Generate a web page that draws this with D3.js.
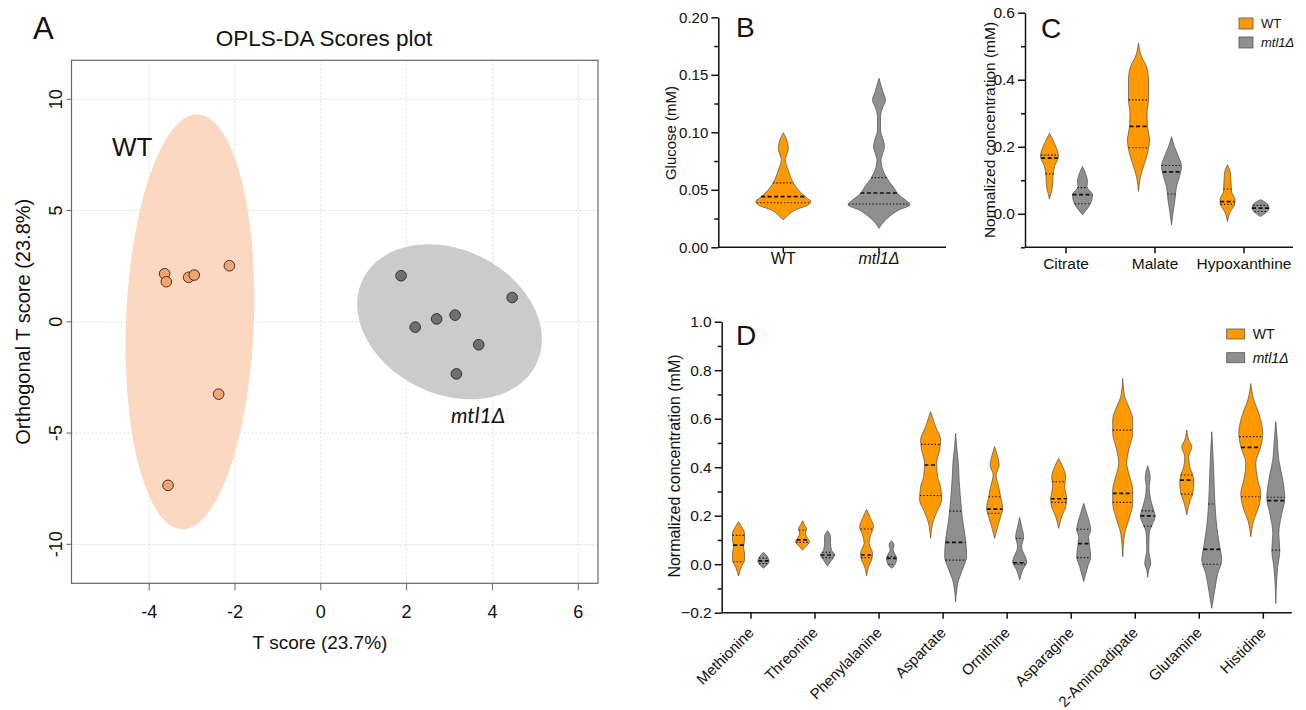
<!DOCTYPE html>
<html>
<head>
<meta charset="utf-8">
<title>OPLS-DA scores and metabolite violins</title>
<script src="https://d3js.org/d3.v7.min.js"></script>
<style>
  body { margin: 0; background: #fff; }
  text { font-family: "Liberation Sans", Arial, sans-serif; }
</style>
</head>
<body>
<div id="chart"></div>
<script>
// ---------- data ----------

// A: OPLS-DA scores [T score, orthogonal T score]
const wtScores  = [[-3.64, 2.16], [-3.60, 1.80], [-3.08, 2.00], [-2.95, 2.10], [-2.13, 2.52], [-2.38, -3.25], [-3.56, -7.35]]
const mtlScores = [[1.87, 2.07], [2.20, -0.24], [2.70, 0.13], [3.13, 0.30], [4.46, 1.09], [3.68, -1.03], [3.16, -2.34]]
// confidence ellipses: centre + two conjugate semi-axes (score units)
const wtEllipse  = {c: [-3.05, 0], u: [0.17, 9.32], v: [1.49, 0]}
const mtlEllipse = {c: [3.0, 0], u: [2.02, -1.91], v: [-0.74, -2.91]}
const xTicksA = [-4, -2, 0, 2, 4, 6]
const yTicksA = [-10, -5, 0, 5, 10]

// violin profiles: [value, relative density], median and quartiles
// B: glucose
const glucoseGroups = ["WT", "mtl1Δ"]
const glucoseTicks = [0, 0.05, 0.10, 0.15, 0.20]
const glucoseMinor = [0.025, 0.075, 0.125, 0.175]
const glucoseViolins = [
  {cat: "WT", group: "WT", median: 0.044, q: [0.0388, 0.056],
   profile: [[0.0997,0],[0.093,3.5],[0.086,5],[0.0795,3],[0.0765,2],[0.067,5],[0.057,9.5],[0.048,17],[0.0426,24],[0.040,27.5],[0.0368,25],[0.0325,12],[0.028,5],[0.0238,0]]},
  {cat: "mtl1Δ", group: "mtl1Δ", median: 0.0472, q: [0.0377, 0.0606],
   profile: [[0.147,0],[0.135,4],[0.128,6.5],[0.12,3],[0.1136,1.5],[0.102,1.5],[0.094,4],[0.0875,5.5],[0.081,3.5],[0.076,2],[0.067,4],[0.060,8],[0.0528,14],[0.0455,20],[0.040,28],[0.037,31],[0.0325,20],[0.025,8],[0.0165,0]]}
]

// C: organic acids / purine
const organicCats = ["Citrate", "Malate", "Hypoxanthine"]
const organicTicks = [0, 0.2, 0.4, 0.6]
const organicMinor = [-0.1, 0.1, 0.3, 0.5]
const organicViolins = [
  {cat: "Citrate", group: "WT", median: 0.166, q: [0.119, 0.175],
   profile: [[0.24,0],[0.21,5],[0.171,9],[0.141,5],[0.111,3.5],[0.081,3],[0.062,1.5],[0.044,0]]},
  {cat: "Citrate", group: "mtl1Δ", median: 0.057, q: [0.030, 0.078],
   profile: [[0.141,0],[0.121,3],[0.096,5],[0.081,4.5],[0.057,10],[0.030,8],[0.012,4],[-0.003,0]]},
  {cat: "Malate", group: "WT", median: 0.261, q: [0.197, 0.340],
   profile: [[0.509,0],[0.469,3],[0.439,8],[0.399,10],[0.34,10],[0.30,8.5],[0.26,9],[0.22,11],[0.18,9],[0.141,5],[0.111,2],[0.067,0]]},
  {cat: "Malate", group: "mtl1Δ", median: 0.125, q: [0.059, 0.144],
   profile: [[0.23,0],[0.20,3],[0.171,7],[0.141,10],[0.111,8],[0.081,5],[0.042,3.5],[0.002,1.5],[-0.033,0]]},
  {cat: "Hypoxanthine", group: "WT", median: 0.036, q: [0.028, 0.074],
   profile: [[0.146,0],[0.121,3],[0.096,3.5],[0.067,4],[0.042,7.5],[0.027,7],[0.007,3],[-0.023,0]]},
  {cat: "Hypoxanthine", group: "mtl1Δ", median: 0.017, q: [0.007, 0.025],
   profile: [[0.042,0],[0.032,6],[0.017,8.5],[0.002,5],[-0.008,0]]}
]

// D: amino acids
const aminoCats = ["Methionine", "Threonine", "Phenylalanine", "Aspartate", "Ornithine", "Asparagine", "2-Aminoadipate", "Glutamine", "Histidine"]
const aminoTicks = [-0.2, 0, 0.2, 0.4, 0.6, 0.8, 1.0]
const aminoMinor = [-0.1, 0.1, 0.3, 0.5, 0.7, 0.9]
const aminoViolins = [
  {cat: "Methionine", group: "WT", median: 0.079, q: [0.010, 0.119],
   profile: [[0.175,0],[0.155,3],[0.127,6],[0.10,6],[0.072,5],[0.045,6],[0.017,6],[-0.01,3],[-0.049,0]]},
  {cat: "Methionine", group: "mtl1Δ", median: 0.014, q: [0.003, 0.025],
   profile: [[0.049,0],[0.031,4],[0.01,5.5],[-0.003,3.5],[-0.017,0]]},
  {cat: "Threonine", group: "WT", median: 0.10, q: [0.09, 0.141],
   profile: [[0.179,0],[0.162,2],[0.148,4],[0.127,3],[0.107,5],[0.093,7],[0.072,3],[0.058,0]]},
  {cat: "Threonine", group: "mtl1Δ", median: 0.038, q: [0.027, 0.049],
   profile: [[0.138,0],[0.113,3],[0.086,3],[0.058,4],[0.038,7],[0.017,4],[-0.008,0]]},
  {cat: "Phenylalanine", group: "WT", median: 0.038, q: [0.027, 0.145],
   profile: [[0.226,0],[0.189,4],[0.155,7],[0.12,4],[0.086,2.5],[0.045,6],[0.017,5],[-0.01,2],[-0.049,0]]},
  {cat: "Phenylalanine", group: "mtl1Δ", median: 0.024, q: [0.0, 0.031],
   profile: [[0.097,0],[0.079,2.5],[0.061,1.5],[0.024,5],[0.003,4],[-0.017,0]]},
  {cat: "Aspartate", group: "WT", median: 0.409, q: [0.283, 0.494],
   profile: [[0.629,0],[0.567,5],[0.512,10],[0.471,9],[0.416,6],[0.361,7],[0.32,10],[0.265,11],[0.223,7],[0.182,3],[0.107,0]]},
  {cat: "Aspartate", group: "mtl1Δ", median: 0.09, q: [0.017, 0.219],
   profile: [[0.54,0],[0.485,1],[0.43,2.5],[0.347,3.5],[0.265,5],[0.182,7],[0.10,10],[0.031,11],[-0.01,8],[-0.065,3],[-0.155,0]]},
  {cat: "Ornithine", group: "WT", median: 0.227, q: [0.21, 0.278],
   profile: [[0.485,0],[0.443,3],[0.409,4.5],[0.368,1.5],[0.32,4],[0.278,6],[0.23,8],[0.196,6],[0.155,3],[0.107,0]]},
  {cat: "Ornithine", group: "mtl1Δ", median: 0.006, q: [0.0, 0.107],
   profile: [[0.193,0],[0.155,2],[0.113,4],[0.072,2],[0.01,7],[-0.024,3],[-0.065,0]]},
  {cat: "Asparagine", group: "WT", median: 0.27, q: [0.255, 0.34],
   profile: [[0.436,0],[0.402,4],[0.361,7],[0.32,6],[0.271,8],[0.237,7],[0.196,3],[0.148,0]]},
  {cat: "Asparagine", group: "mtl1Δ", median: 0.085, q: [0.027, 0.144],
   profile: [[0.251,0],[0.21,3],[0.168,6],[0.141,7],[0.113,5],[0.072,6],[0.031,7],[-0.01,4],[-0.072,0]]},
  {cat: "2-Aminoadipate", group: "WT", median: 0.292, q: [0.255, 0.553],
   profile: [[0.766,0],[0.691,2],[0.65,6],[0.595,10],[0.54,10],[0.471,6],[0.416,4],[0.361,7],[0.306,10],[0.251,10],[0.196,7],[0.127,2],[0.031,0]]},
  {cat: "2-Aminoadipate", group: "mtl1Δ", median: 0.199, q: [0.157, 0.22],
   profile: [[0.406,0],[0.375,2],[0.354,2.5],[0.32,1.5],[0.265,3],[0.223,6],[0.196,7.5],[0.168,5],[0.127,1.5],[0.058,1],[0.003,3],[-0.024,1],[-0.054,0]]},
  {cat: "Glutamine", group: "WT", median: 0.347, q: [0.289, 0.368],
   profile: [[0.553,0],[0.512,2],[0.485,5],[0.443,2],[0.402,3],[0.368,6],[0.34,7],[0.292,6],[0.258,3],[0.203,0]]},
  {cat: "Glutamine", group: "mtl1Δ", median: 0.061, q: [0.0, 0.248],
   profile: [[0.546,0],[0.471,1],[0.375,2],[0.265,3],[0.155,5],[0.072,8],[0.017,10],[-0.038,6],[-0.107,3],[-0.182,0]]},
  {cat: "Histidine", group: "WT", median: 0.482, q: [0.278, 0.526],
   profile: [[0.745,0],[0.677,3],[0.622,8],[0.54,12],[0.485,10],[0.416,5],[0.347,7],[0.292,10],[0.237,8],[0.182,3],[0.113,0]]},
  {cat: "Histidine", group: "mtl1Δ", median: 0.262, q: [0.058, 0.276],
   profile: [[0.588,0],[0.512,1.5],[0.43,3],[0.347,7],[0.271,9],[0.21,6],[0.127,3],[0.058,4],[-0.01,2],[-0.093,0.5],[-0.162,0]]}
]

// ---------- drawing ----------
const W = 1306, H = 710
const orange = "#ff9900", grey = "#8f8f8f"
const fillOf = {"WT": orange, "mtl1Δ": grey}
const font = "'Liberation Sans', Arial, sans-serif"

const svg = d3.select("#chart").append("svg")
    .attr("width", W).attr("height", H)
svg.append("rect").attr("width", W).attr("height", H).attr("fill", "#fff")

// ===== Panel A =====
const xA = d3.scaleLinear().domain([-5.81, 6.46]).range([71.5, 598])
const yA = d3.scaleLinear().domain([-11.75, 11.75]).range([583.3, 60.3])
const gA = svg.append("g")

// grid
gA.selectAll(".gx").data(xTicksA).enter().append("line")
    .attr("x1", d => xA(d)).attr("x2", d => xA(d))
    .attr("y1", yA.range()[1]).attr("y2", yA.range()[0])
    .attr("stroke", "#dcdcdc").attr("stroke-dasharray", "2,2")
gA.selectAll(".gy").data(yTicksA).enter().append("line")
    .attr("y1", d => yA(d)).attr("y2", d => yA(d))
    .attr("x1", xA.range()[0]).attr("x2", xA.range()[1])
    .attr("stroke", "#dcdcdc").attr("stroke-dasharray", "2,2")

// ellipses
function ellipsePath(e) {
  const pts = d3.range(0, 360, 3).map(a => {
    const t = a * Math.PI / 180
    return [e.c[0] + e.u[0] * Math.cos(t) + e.v[0] * Math.sin(t),
            e.c[1] + e.u[1] * Math.cos(t) + e.v[1] * Math.sin(t)]
  })
  return d3.line().x(d => xA(d[0])).y(d => yA(d[1])).curve(d3.curveCardinalClosed)(pts)
}
gA.append("path").attr("d", ellipsePath(wtEllipse)).attr("fill", "#fcd8c1")
gA.append("path").attr("d", ellipsePath(mtlEllipse)).attr("fill", "#cbcbcb")

// points
gA.selectAll(".pw").data(wtScores).enter().append("circle")
    .attr("cx", d => xA(d[0])).attr("cy", d => yA(d[1])).attr("r", 5.3)
    .attr("fill", "#f7a36f").attr("stroke", "#333").attr("stroke-width", 1)
gA.selectAll(".pm").data(mtlScores).enter().append("circle")
    .attr("cx", d => xA(d[0])).attr("cy", d => yA(d[1])).attr("r", 5.3)
    .attr("fill", "#707070").attr("stroke", "#333").attr("stroke-width", 1)

// box
gA.append("rect")
    .attr("x", xA.range()[0]).attr("y", yA.range()[1])
    .attr("width", xA.range()[1] - xA.range()[0]).attr("height", yA.range()[0] - yA.range()[1])
    .attr("fill", "none").attr("stroke", "#666").attr("stroke-width", 1.2)

// x axis
gA.selectAll(".tx").data(xTicksA).enter().append("line")
    .attr("x1", d => xA(d)).attr("x2", d => xA(d))
    .attr("y1", yA.range()[0]).attr("y2", yA.range()[0] + 7)
    .attr("stroke", "#666")
gA.selectAll(".lx").data(xTicksA).enter().append("text")
    .attr("x", d => xA(d)).attr("y", 618)
    .attr("text-anchor", "middle").attr("font-size", 18).attr("fill", "#111")
    .text(d => d)
// y axis
gA.selectAll(".ty").data(yTicksA).enter().append("line")
    .attr("y1", d => yA(d)).attr("y2", d => yA(d))
    .attr("x1", xA.range()[0] - 5).attr("x2", xA.range()[0])
    .attr("stroke", "#666")
gA.selectAll(".ly").data(yTicksA).enter().append("text")
    .attr("transform", d => "translate(62," + yA(d) + ") rotate(-90)")
    .attr("text-anchor", "middle").attr("font-size", 18).attr("fill", "#111")
    .text(d => d)

gA.append("text").attr("x", 320).attr("y", 649).attr("text-anchor", "middle")
    .attr("font-size", 19).attr("fill", "#111").text("T score (23.7%)")
gA.append("text").attr("transform", "translate(30," + yA(0) + ") rotate(-90)")
    .attr("text-anchor", "middle").attr("font-size", 20).attr("fill", "#111")
    .text("Orthogonal T score (23.8%)")
gA.append("text").attr("x", 324).attr("y", 46).attr("text-anchor", "middle")
    .attr("font-size", 22.5).attr("fill", "#111").text("OPLS-DA Scores plot")
gA.append("text").attr("x", 33).attr("y", 39).attr("font-size", 31).attr("fill", "#111").text("A")
gA.append("text").attr("x", 112).attr("y", 156).attr("font-size", 26).attr("fill", "#111").text("WT")
gA.append("text").attr("x", 478).attr("y", 423).attr("text-anchor", "middle")
    .attr("font-size", 21).attr("font-style", "italic").attr("fill", "#111")
    .style("font-family", "Lato, 'Open Sans', sans-serif").text("mtl1Δ")

// ===== violin helpers =====
function widthAt(prof, v) {
  for (let i = 0; i < prof.length - 1; i++) {
    const a = prof[i], b = prof[i + 1]
    if (v >= a[0] && v <= b[0]) return a[1] + (b[1] - a[1]) * (v - a[0]) / (b[0] - a[0])
  }
  return 0
}

function drawViolins(g, list, x, y, w, offset) {
  list.forEach(d => {
    const cx = x(d.cat) + offset[d.group]
    const prof = d.profile.slice().sort((a, b) => a[0] - b[0])
    const area = d3.area()
        .curve(d3.curveMonotoneY)
        .y(p => y(p[0]))
        .x0(p => cx - w(p[1]))
        .x1(p => cx + w(p[1]))
    g.append("path").attr("d", area(prof))
        .attr("fill", fillOf[d.group]).attr("stroke", "#4d4d4d").attr("stroke-width", 0.7)
    d.q.forEach(v => {
      const hw = w(widthAt(prof, v))
      g.append("line").attr("x1", cx - hw).attr("x2", cx + hw)
          .attr("y1", y(v)).attr("y2", y(v))
          .attr("stroke", "#111").attr("stroke-width", 1.1).attr("stroke-dasharray", "1.4,2")
    })
    const hm = w(widthAt(prof, d.median))
    g.append("line").attr("x1", cx - hm).attr("x2", cx + hm)
        .attr("y1", y(d.median)).attr("y2", y(d.median))
        .attr("stroke", "#111").attr("stroke-width", 1.7).attr("stroke-dasharray", "4,2.5")
  })
}

function yAxisPrism(g, y, x0, ticks, minor, fmt, fs) {
  const ax = g.append("g").attr("transform", "translate(" + x0 + ",0)")
      .call(d3.axisLeft(y).tickValues(ticks).tickFormat(d3.format(fmt)).tickSize(7).tickSizeOuter(0).tickPadding(3))
  ax.selectAll("path,line").attr("stroke", "#111").attr("stroke-width", 1.5)
  ax.selectAll("text").attr("font-size", fs).attr("font-family", font).attr("fill", "#111")
  const mi = g.append("g").attr("transform", "translate(" + x0 + ",0)")
      .call(d3.axisLeft(y).tickValues(minor).tickFormat("").tickSize(4))
  mi.select(".domain").remove()
  mi.selectAll("line").attr("stroke", "#111").attr("stroke-width", 1.5)
}

function xAxisPrism(g, x, y0, xStart, xEnd) {
  g.append("line").attr("x1", xStart).attr("x2", xEnd).attr("y1", y0).attr("y2", y0)
      .attr("stroke", "#111").attr("stroke-width", 1.5)
  g.selectAll(null).data(x.domain()).enter().append("line")
      .attr("x1", d => x(d)).attr("x2", d => x(d)).attr("y1", y0).attr("y2", y0 + 6)
      .attr("stroke", "#111").attr("stroke-width", 1.5)
}

function legend(g, x0, y0, gap, sw, sh, fs) {
  ["WT", "mtl1Δ"].forEach((k, i) => {
    g.append("rect").attr("x", x0).attr("y", y0 + i * gap).attr("width", sw).attr("height", sh)
        .attr("fill", fillOf[k]).attr("stroke", "#555").attr("stroke-width", 0.8)
    g.append("text").attr("x", x0 + sw + 8).attr("y", y0 + i * gap + sh / 2)
        .attr("dy", "0.36em").attr("font-size", fs).attr("fill", "#111")
        .attr("font-style", i ? "italic" : "normal").text(k)
  })
}

// ===== Panel B =====
const gB = svg.append("g")
const yB = d3.scaleLinear().domain([0, 0.2]).range([247.3, 17.3])
const xB = d3.scalePoint().domain(glucoseGroups).range([783.3, 879])
const wB = d3.scaleLinear().domain([0, 30]).range([0, 30])
drawViolins(gB, glucoseViolins, xB, yB, wB, {"WT": 0, "mtl1Δ": 0})
yAxisPrism(gB, yB, 718.3, glucoseTicks, glucoseMinor, ".2f", 15)
xAxisPrism(gB, xB, 247.3, 718.3, 946)
gB.selectAll(null).data(glucoseGroups).enter().append("text")
    .attr("x", d => xB(d)).attr("y", 264).attr("text-anchor", "middle")
    .attr("font-size", 16).attr("fill", "#111")
    .attr("font-style", (d, i) => i ? "italic" : "normal").text(d => d)
gB.append("text").attr("transform", "translate(676,133) rotate(-90)").attr("text-anchor", "middle")
    .attr("font-size", 15).attr("fill", "#111").text("Glucose (mM)")
gB.append("text").attr("x", 736).attr("y", 37).attr("font-size", 28).attr("fill", "#111").text("B")

// ===== Panel C =====
const gC = svg.append("g")
const yC = d3.scaleLinear().domain([-0.1, 0.6]).range([247.3, 12.7])
const xC = d3.scalePoint().domain(organicCats).range([1066, 1244])
const wC = d3.scaleLinear().domain([0, 12]).range([0, 12])
drawViolins(gC, organicViolins, xC, yC, wC, {"WT": -16.5, "mtl1Δ": 16.5})
yAxisPrism(gC, yC, 1025, organicTicks, organicMinor, ".1f", 15.5)
xAxisPrism(gC, xC, 247.3, 1025, 1293)
gC.selectAll(null).data(organicCats).enter().append("text")
    .attr("x", d => xC(d)).attr("y", 269).attr("text-anchor", "middle")
    .attr("font-size", 15.5).attr("fill", "#111").text(d => d)
gC.append("text").attr("transform", "translate(995,130) rotate(-90)").attr("text-anchor", "middle")
    .attr("font-size", 15.5).attr("fill", "#111").text("Normalized concentration (mM)")
gC.append("text").attr("x", 1041).attr("y", 38).attr("font-size", 28).attr("fill", "#111").text("C")
legend(gC, 1239, 18, 19, 14, 11, 13)

// ===== Panel D =====
const gD = svg.append("g")
const yD = d3.scaleLinear().domain([-0.2, 1.0]).range([612.7, 321.7])
const xD = d3.scalePoint().domain(aminoCats).range([751, 1263.3])
const wD = d3.scaleLinear().domain([0, 12]).range([0, 12])
drawViolins(gD, aminoViolins, xD, yD, wD, {"WT": -12.5, "mtl1Δ": 12.5})
yAxisPrism(gD, yD, 721.7, aminoTicks, aminoMinor, ".1f", 15.5)
xAxisPrism(gD, xD, 612.7, 721.7, 1291.7)
gD.selectAll(null).data(aminoCats).enter().append("text")
    .attr("transform", d => "translate(" + xD(d) + ",630) rotate(-45)")
    .attr("text-anchor", "end").attr("dy", "0.35em")
    .attr("font-size", 15).attr("fill", "#111").text(d => d)
gD.append("text").attr("transform", "translate(680,466) rotate(-90)").attr("text-anchor", "middle")
    .attr("font-size", 16).attr("fill", "#111").text("Normalized concentration (mM)")
gD.append("text").attr("x", 736).attr("y", 345).attr("font-size", 28).attr("fill", "#111").text("D")
legend(gD, 1226.7, 329, 23.7, 18, 10, 14)
</script>
</body>
</html>
